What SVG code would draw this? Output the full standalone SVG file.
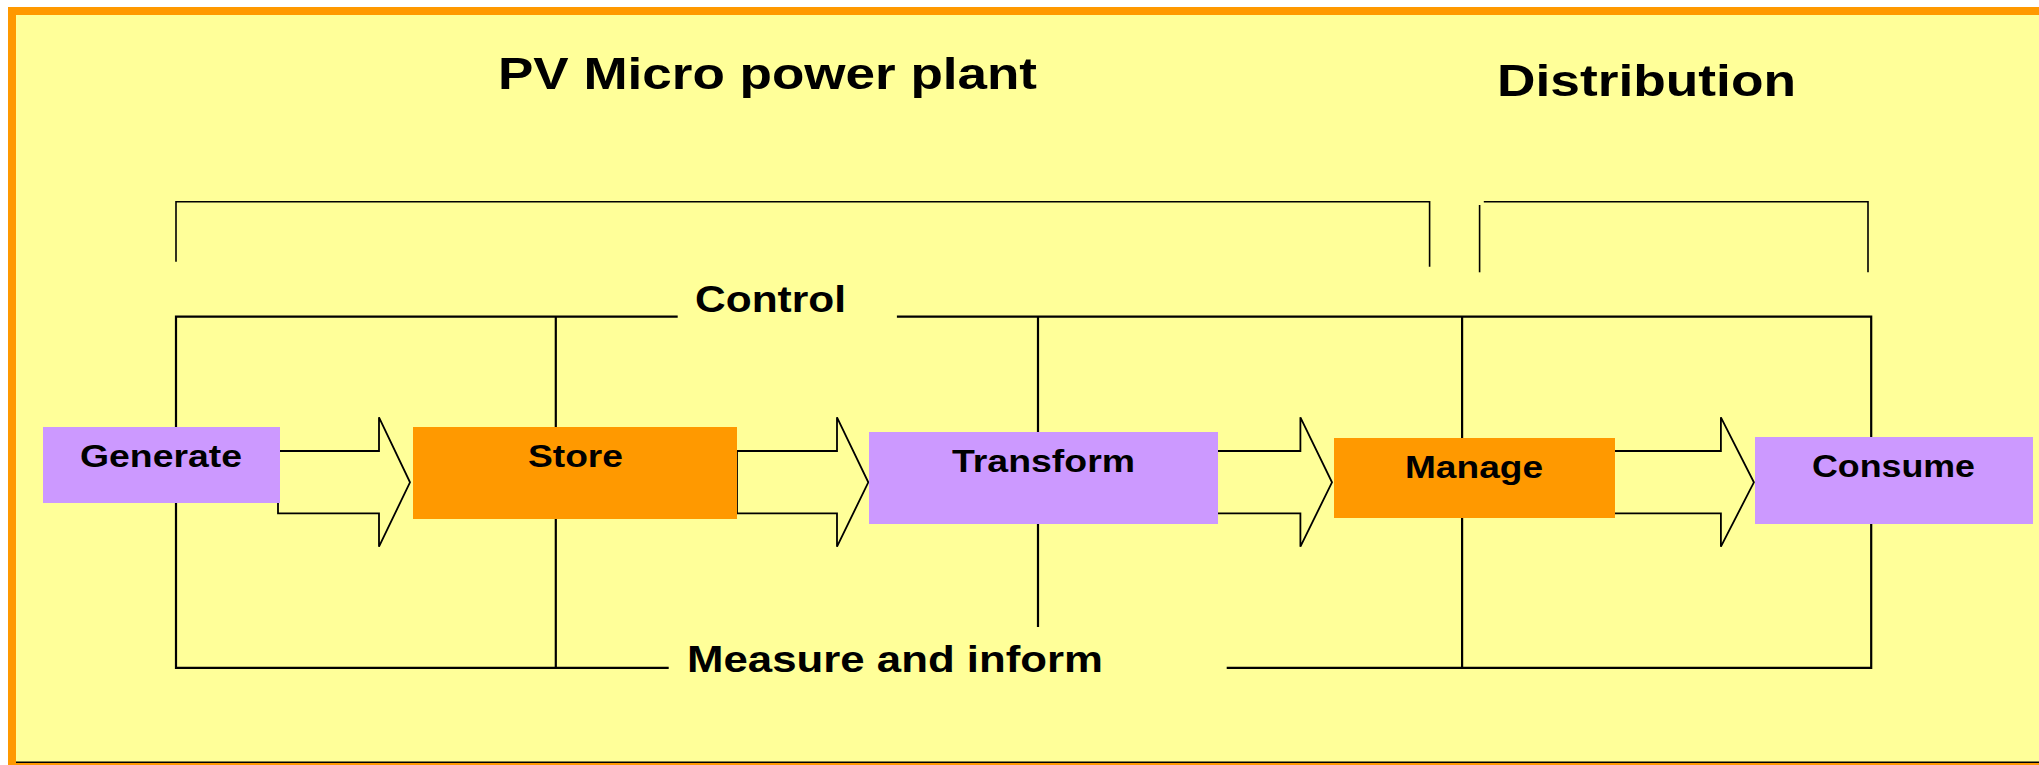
<svg xmlns="http://www.w3.org/2000/svg" width="2039" height="765" viewBox="0 0 2039 765">
<style>
.bg{fill:#FFFF99}
.frame{fill:#FF9900}
.purple{fill:#CC99FF}
.orange{fill:#FF9900}
.ln{stroke:#000;stroke-width:1.6;fill:none}
.lnb{stroke:#000;stroke-width:2.2;fill:none}
.arrow{fill:#FFFF99;stroke:#000;stroke-width:1.8;stroke-linejoin:miter}
text{font-family:"Liberation Sans",Arial,sans-serif;font-weight:bold;fill:#000}
.lbl{font-size:31px}
.title{font-size:44px}
.sub{font-size:36px}
</style>
<rect x="0" y="0" width="2039" height="765" fill="#FFFFFF"/>
<rect class="bg" x="8" y="7" width="2031" height="758"/>
<g id="frame">
<rect class="frame" x="8" y="7" width="2031" height="8"/>
<rect class="frame" x="8" y="7" width="8" height="758"/>
<rect class="frame" x="16" y="762" width="2023" height="3"/>
<line x1="16" y1="762.3" x2="2039" y2="762.3" stroke="#000" stroke-width="1.4"/>
</g>
<g id="titles">
<text class="title" x="498" y="89.3" textLength="539" lengthAdjust="spacingAndGlyphs">PV Micro power plant</text>
<text class="title" x="1497" y="95.7" textLength="299" lengthAdjust="spacingAndGlyphs">Distribution</text>
</g>
<g id="connectors">
<path class="ln" d="M176,261.7 V201.7 H1429.6 V266.7"/>
<path class="ln" d="M1479.6,272.3 V205"/>
<path class="ln" d="M1483.8,201.7 H1868 V272.3"/>
<path class="lnb" d="M677.7,316.7 H176 V667.8 H668.7"/>
<path class="lnb" d="M896.9,316.7 H1871.2 V667.8 H1226.7"/>
<line class="lnb" x1="555.8" y1="316.7" x2="555.8" y2="667.8"/>
<line class="lnb" x1="1038" y1="316.7" x2="1038" y2="627"/>
<line class="lnb" x1="1462.1" y1="316.7" x2="1462.1" y2="667.8"/>
<polygon class="arrow" points="278,451 379,451 379,417.3 410,482.3 379,546.7 379,513.3 278,513.3"/>
<polygon class="arrow" points="737,451 837,451 837,417.3 868.3,482.3 837,546.7 837,513.3 737,513.3"/>
<polygon class="arrow" points="1217,451 1300.4,451 1300.4,417.3 1332,482.3 1300.4,546.7 1300.4,513.3 1217,513.3"/>
<polygon class="arrow" points="1614,451 1720.9,451 1720.9,417.3 1753.9,482.3 1720.9,546.7 1720.9,513.3 1614,513.3"/>
</g>
<g id="labels">
<text class="sub" x="695" y="312.3" textLength="151" lengthAdjust="spacingAndGlyphs">Control</text>
<text class="sub" x="687" y="671.7" textLength="416" lengthAdjust="spacingAndGlyphs">Measure and inform</text>
</g>
<g id="node-generate">
<rect class="purple" x="43" y="427" width="237" height="76"/>
<text class="lbl" x="80" y="467.3" textLength="162" lengthAdjust="spacingAndGlyphs">Generate</text>
</g>
<g id="node-store">
<rect class="orange" x="413" y="427" width="324" height="92"/>
<text class="lbl" x="528" y="467.3" textLength="95" lengthAdjust="spacingAndGlyphs">Store</text>
</g>
<g id="node-transform">
<rect class="purple" x="869" y="432" width="349" height="92"/>
<text class="lbl" x="952" y="471.7" textLength="183" lengthAdjust="spacingAndGlyphs">Transform</text>
</g>
<g id="node-manage">
<rect class="orange" x="1334" y="438" width="281" height="80"/>
<text class="lbl" x="1405" y="477.7" textLength="138" lengthAdjust="spacingAndGlyphs">Manage</text>
</g>
<g id="node-consume">
<rect class="purple" x="1755" y="437" width="278" height="87"/>
<text class="lbl" x="1812" y="477" textLength="163" lengthAdjust="spacingAndGlyphs">Consume</text>
</g>
</svg>
